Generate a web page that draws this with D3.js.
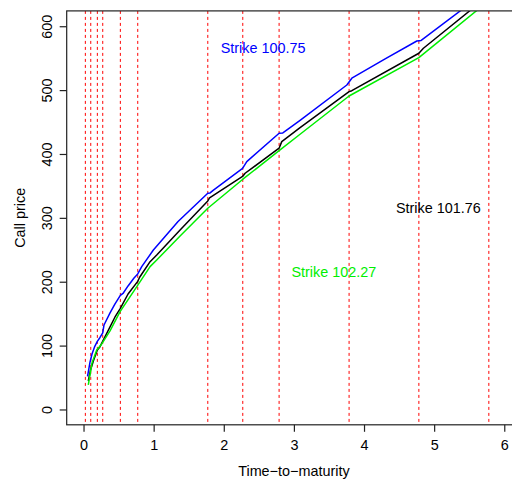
<!DOCTYPE html>
<html>
<head>
<meta charset="utf-8">
<script src="https://cdn.jsdelivr.net/npm/d3@7"></script>
<style>
  body { margin: 0; background: #fff; }
  text { font-family: "Liberation Sans", Arial, Helvetica, sans-serif; }
</style>
</head>
<body>
<svg id="chart" width="512" height="483"></svg>
<script>
// Cash-flow / reset dates (years) drawn as dashed verticals
const resetTimes = [0.026, 0.103, 0.197, 0.274, 0.525, 0.773, 1.772, 2.271, 2.789, 3.787, 4.782, 5.78];

// Call price against time-to-maturity for three strikes
const strikeLow = "Strike 100.75";
const lowT = [0.057, 0.093, 0.121, 0.157, 0.197, 0.235, 0.274, 0.292, 0.378, 0.449, 0.525, 0.563, 0.635, 0.720, 0.773, 0.830, 0.996, 1.348, 1.772, 1.805, 1.848, 2.268, 2.328, 2.789, 2.842, 3.088, 3.755, 3.826, 4.301, 4.753, 4.815, 5.381, 5.442];
const lowP = [51.7, 74.4, 86.9, 97.9, 106.5, 112.7, 119.8, 132.3, 151.1, 165.2, 178.5, 181.6, 193.4, 205.9, 212.2, 223.6, 249.7, 294.3, 338.5, 339.0, 342.9, 377.3, 388.0, 432.4, 432.9, 452.5, 508.0, 518.6, 548.8, 576.9, 577.7, 624.7, 629.4];

const strikeMid = "Strike 101.76";
const midT = [0.068, 0.100, 0.140, 0.197, 0.235, 0.282, 0.378, 0.449, 0.525, 0.635, 0.773, 0.800, 0.949, 1.044, 1.377, 1.772, 1.797, 2.268, 2.304, 2.789, 2.827, 3.088, 3.787, 3.826, 4.782, 4.847, 5.514, 5.571];
const midP = [44.6, 61.8, 75.9, 93.2, 98.3, 108.8, 129.2, 144.8, 158.4, 180.8, 200.5, 207.0, 231.4, 241.9, 281.0, 326.4, 331.1, 364.8, 369.8, 409.0, 419.3, 441.4, 497.6, 499.1, 557.7, 565.5, 624.7, 629.4];

const strikeHigh = "Strike 102.27";
const highT = [0.068, 0.121, 0.188, 0.260, 0.378, 0.521, 0.767, 0.949, 1.044, 1.377, 1.772, 2.268, 2.789, 3.088, 3.787, 4.782, 5.609, 5.656];
const highP = [38.4, 72.8, 93.2, 102.6, 122.9, 153.1, 193.4, 223.6, 234.0, 271.6, 315.0, 360.1, 405.2, 430.9, 490.8, 550.8, 624.7, 628.6];

const xTicks = [0, 1, 2, 3, 4, 5, 6];
const yTicks = [0, 100, 200, 300, 400, 500, 600];

const svg = d3.select("#chart");
const plotLeft = 66.7, plotRight = 521.1, plotTop = 10.9, plotBottom = 424.8;

const x = d3.scaleLinear().domain([-0.24, 6.24]).range([plotLeft, plotRight]);
const y = d3.scaleLinear().domain([-24, 624]).range([plotBottom, plotTop]);

svg.append("defs").append("clipPath").attr("id", "plotArea")
  .append("rect").attr("x", plotLeft).attr("y", plotTop)
  .attr("width", plotRight - plotLeft).attr("height", plotBottom - plotTop);

const plot = svg.append("g").attr("clip-path", "url(#plotArea)");

// dashed reset dates
plot.selectAll("line.reset").data(resetTimes).join("line")
  .attr("class", "reset")
  .attr("x1", d => x(d)).attr("x2", d => x(d))
  .attr("y1", plotTop).attr("y2", plotBottom)
  .attr("stroke", "#ff0000").attr("stroke-width", 1)
  .attr("stroke-dasharray", "3,3");

const series = [
  { t: lowT, p: lowP, color: "#0000ff" },
  { t: midT, p: midP, color: "#000000" },
  { t: highT, p: highP, color: "#00ee00" }
];

const line = d3.line().x(d => x(d[0])).y(d => y(d[1]));
series.forEach(s => {
  plot.append("path")
    .datum(d3.zip(s.t, s.p))
    .attr("d", line)
    .attr("fill", "none")
    .attr("stroke", s.color)
    .attr("stroke-width", 1.5)
    .attr("stroke-linejoin", "round");
});

// box
svg.append("rect").attr("x", plotLeft).attr("y", plotTop)
  .attr("width", plotRight - plotLeft).attr("height", plotBottom - plotTop)
  .attr("fill", "none").attr("stroke", "#222").attr("stroke-width", 1.2);

const fontSize = 14.4;

// x axis
const xAxis = svg.append("g").attr("transform", `translate(0,${plotBottom})`)
  .call(d3.axisBottom(x).tickValues(xTicks).tickSize(7).tickPadding(8).tickFormat(d3.format("d")));
xAxis.select(".domain").remove();
xAxis.selectAll(".tick line").attr("stroke", "#222").attr("stroke-width", 1.2);
xAxis.selectAll(".tick text").attr("font-size", fontSize).attr("fill", "#000")
  .attr("font-family", "Liberation Sans, Arial, sans-serif");

// y axis with rotated labels
const yAxis = svg.append("g").attr("transform", `translate(${plotLeft},0)`)
  .call(d3.axisLeft(y).tickValues(yTicks).tickSize(7).tickFormat(d3.format("d")));
yAxis.select(".domain").remove();
yAxis.selectAll(".tick line").attr("stroke", "#222").attr("stroke-width", 1.2);
yAxis.selectAll(".tick text")
  .attr("font-size", fontSize).attr("fill", "#000")
  .attr("font-family", "Liberation Sans, Arial, sans-serif")
  .attr("x", null).attr("dy", null)
  .attr("text-anchor", "middle")
  .attr("transform", "translate(-20,0) rotate(-90)")
  .attr("dy", "0.35em");

// axis titles
svg.append("text").attr("x", (plotLeft + plotRight) / 2).attr("y", 471)
  .attr("text-anchor", "middle").attr("dominant-baseline", "central")
  .attr("font-size", fontSize).text("Time\u2212to\u2212maturity");
svg.append("text")
  .attr("transform", `translate(20,${(plotTop + plotBottom) / 2}) rotate(-90)`)
  .attr("text-anchor", "middle").attr("dominant-baseline", "central")
  .attr("font-size", fontSize).text("Call price");

// strike labels
const labels = [
  { text: strikeLow, t: 2.56, p: 566, color: "#0000ff" },
  { text: strikeMid, t: 5.06, p: 316, color: "#000000" },
  { text: strikeHigh, t: 3.57, p: 214.8, color: "#00ee00" }
];
svg.selectAll("text.strike").data(labels).join("text")
  .attr("class", "strike")
  .attr("x", d => x(d.t)).attr("y", d => y(d.p))
  .attr("text-anchor", "middle").attr("dominant-baseline", "central")
  .attr("font-size", fontSize).attr("fill", d => d.color)
  .text(d => d.text);
</script>
</body>
</html>
